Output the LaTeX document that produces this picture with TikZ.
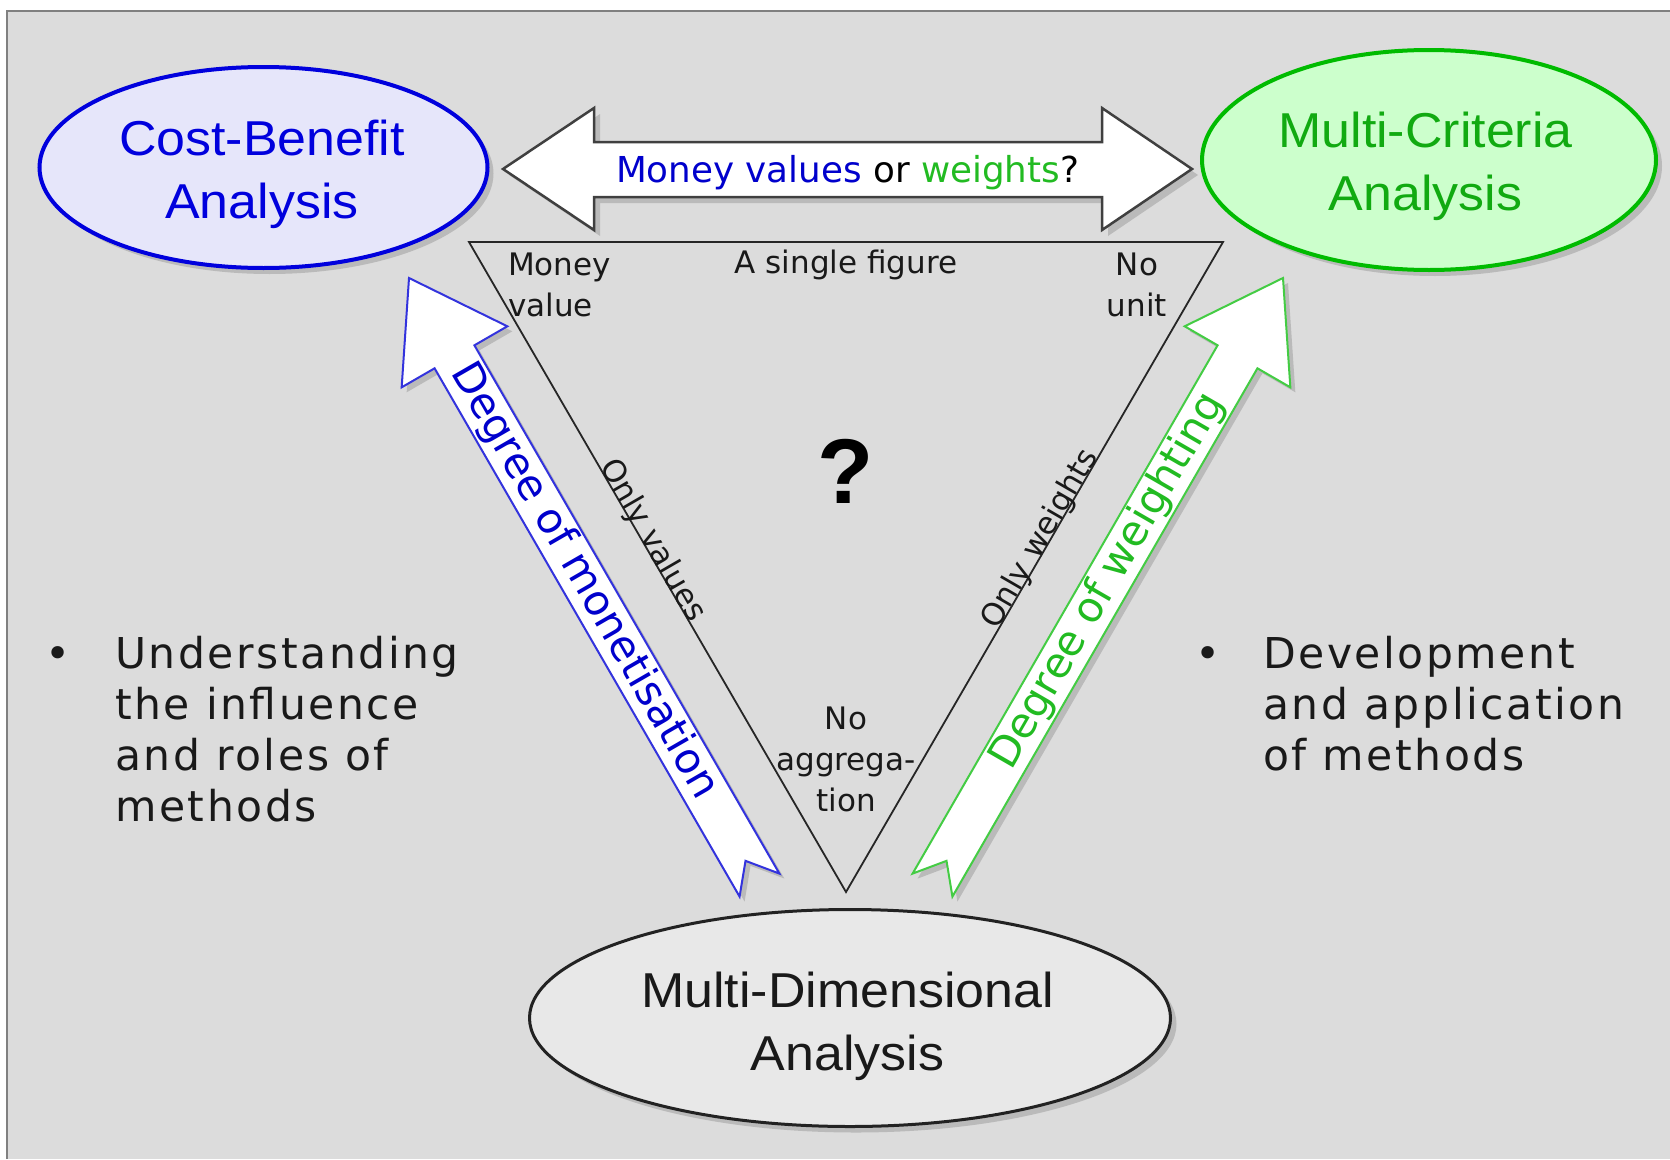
\documentclass[tikz,border=0pt]{standalone}
\usepackage{fontspec}
\setmainfont{DejaVu Sans}
\newfontfamily\ellfont[FakeStretch=1.06]{Liberation Sans}
\newfontfamily\qfont{Liberation Sans}
\newfontfamily\bulfont[LetterSpace=6]{DejaVu Sans}
\usetikzlibrary{shapes.geometric,shadows,calc}

\definecolor{bgc}{HTML}{DCDCDC}
\definecolor{framec}{HTML}{808080}
\definecolor{shadowc}{HTML}{BABABA}
\definecolor{cbafill}{HTML}{E6E6FA}
\definecolor{cbaline}{HTML}{0000DD}
\definecolor{mcafill}{HTML}{CCFFCC}
\definecolor{mcaline}{HTML}{00BB00}
\definecolor{mcatext}{HTML}{11AA11}
\definecolor{mdafill}{HTML}{E8E8E8}
\definecolor{mdaline}{HTML}{222222}
\definecolor{bluetxt}{HTML}{0000CC}
\definecolor{greentxt}{HTML}{22BB22}
\definecolor{bluearrow}{HTML}{3333DD}
\definecolor{greenarrow}{HTML}{44CC44}

\tikzset{
  softshadow/.style={drop shadow={shadow xshift=6pt, shadow yshift=-6pt, fill=shadowc, opacity=1}},
  methodellipse/.style={ellipse, inner sep=0, softshadow},
  elltext/.style={font=\ellfont\fontsize{49}{63}\selectfont, align=center, inner sep=0},
  tritext/.style={font=\fontsize{31}{41}\selectfont, inner sep=0, text=black!90},
  bultext/.style={font=\bulfont\fontsize{42.5}{51}\selectfont, inner sep=0, text=black!90},
  degreetext/.style={font=\fontsize{42}{42}\selectfont, inner sep=0},
  fatarrow/.style={insert path={(0,0) -- (91,61) -- (91,23) -- (701,23) -- (673,0)
      -- (701,-23) -- (91,-23) -- (91,-61) -- cycle}},
}

\begin{document}
\begin{tikzpicture}[x=1pt,y=-1pt]
\useasboundingbox (0,0) rectangle (1670,1159);
% slide background and frame
\fill[white] (0,0) rectangle (1670,1159);
\fill[bgc] (7,11) rectangle (1670,1159);
\draw[framec, line width=2pt] (7,1159) -- (7,11) -- (1670,11);

% the three families of methods
\node[methodellipse, minimum width=448pt, minimum height=201pt, fill=cbafill,
      draw=cbaline, line width=4pt] (cba) at (263.5,167.5) {};
\node[elltext, text=cbaline, anchor=north] (cbatext) at (262,119.5) {Cost-Benefit\\Analysis};

\node[methodellipse, minimum width=454pt, minimum height=220pt, fill=mcafill,
      draw=mcaline, line width=4pt] (mca) at (1429,160) {};
\node[elltext, text=mcatext, anchor=north] (mcatext) at (1425.5,111.5) {Multi-Criteria\\Analysis};

\node[methodellipse, minimum width=641pt, minimum height=217pt, fill=mdafill,
      draw=mdaline, line width=3pt] (mda) at (850,1018) {};
\node[elltext, text=black!90, anchor=north] (mdatext) at (847.5,971.5) {Multi-Dimensional\\Analysis};

% double-headed arrow between CBA and MCA
\draw[softshadow, fill=white, draw=black!75, line width=2.5pt]
  (503,169) -- (594,108) -- (594,142) -- (1102,142) -- (1102,108) -- (1192,169)
  -- (1102,230) -- (1102,197) -- (594,197) -- (594,230) -- cycle;
\node[font=\fontsize{35.7}{40}\selectfont, anchor=base, inner sep=0] (question) at (847.5,182)
  {\textcolor{bluetxt}{Money values} or \textcolor{greentxt}{weights}?};

% triangle of aggregation
\coordinate (tl) at (469,242);
\coordinate (tr) at (1223,242);
\coordinate (bot) at (846,892);
\draw[line width=1.8pt, black!85] (tl) -- (tr) -- (bot) -- cycle;
\node[tritext, anchor=north west, align=left] (money) at (508,252.5) {Money\\value};
\node[tritext, anchor=base] (single) at (846,273) {A single figure};
\node[tritext, anchor=north, align=center] (nounit) at (1137,252.5) {No\\unit};
\node[tritext, anchor=north, align=center] (noagg) at (846,707) {No\\aggrega-\\tion};
\path (tl) -- (bot) node[tritext, pos=0.466, sloped, anchor=base] (onlyv) {Only values};
\path (bot) -- (tr) node[tritext, pos=0.536, sloped, anchor=base] (onlyw) {Only weights};
\node[font=\qfont\bfseries\fontsize{92}{92}\selectfont, inner sep=0] (qmark) at (846,471) {?};

% degree of monetisation
\begin{scope}[shift={(414,283)}, rotate=-60]
  \fill[shadowc, fatarrow];
\end{scope}
\begin{scope}[shift={(409,278)}, rotate=-60]
  \draw[fill=white, draw=bluearrow, line width=2pt, fatarrow];
  \node[degreetext, text=bluetxt, rotate=-60] (monet) at (350,0) {Degree of monetisation};
\end{scope}

% degree of weighting
\begin{scope}[shift={(1288,283)}, rotate=-120]
  \fill[shadowc, fatarrow];
\end{scope}
\begin{scope}[shift={(1283,278)}, rotate=-120]
  \draw[fill=white, draw=greenarrow, line width=2pt, fatarrow];
  \node[degreetext, text=greentxt, rotate=60] (weight) at (350,0) {Degree of weighting};
\end{scope}

% bullet points
\node[bultext, anchor=base] (lbul) at (58,668) {•};
\node[bultext, anchor=north west, align=left] (ltext) at (115,636)
  {Understanding\\the influence\\and roles of\\methods};
\node[bultext, anchor=base] (rbul) at (1208,668) {•};
\node[bultext, anchor=north west, align=left] (rtext) at (1263,636)
  {Development\\and application\\of methods};
\end{tikzpicture}
\end{document}
